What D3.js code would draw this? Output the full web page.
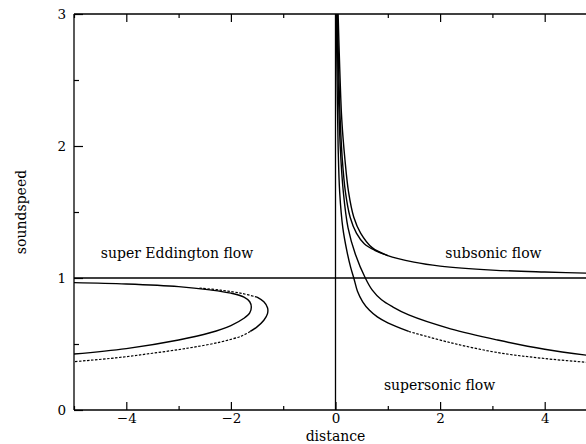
<!DOCTYPE html>
<html>
<head>
<meta charset="utf-8">
<script src="https://cdn.jsdelivr.net/npm/d3@7"></script>
<style>
  body { margin: 0; background: #fff; }
  svg { display: block; }
  text { font-family: "DejaVu Serif", serif; fill: #000; }
</style>
</head>
<body>
<div id="chart"></div>
<script>
// axis ticks
const xTicksMajor = [-4, -2, 0, 2, 4];
const xTicksMinor = [-5, -3, -1, 1, 3, 5];
const yTicksMajor = [0, 1, 2, 3];
const yTicksMinor = [0.5, 1.5, 2.5];

// region labels [x, y, text]
const regionLabels = [
  [-3.03, 1.19, "super Eddington flow"],
  [3.02, 1.19, "subsonic flow"],
  [1.99, 0.19, "supersonic flow"]
];

// left loop, inner solid curve
const loopInner = [[-5, 0.965], [-4, 0.955], [-3, 0.935], [-2.4, 0.91], [-2, 0.885], [-1.75, 0.855],
  [-1.64, 0.82], [-1.61, 0.78], [-1.64, 0.735], [-1.75, 0.695], [-2, 0.64], [-2.4, 0.585],
  [-3, 0.53], [-4, 0.465], [-5, 0.424]];
// left loop, outer curve: dotted upper part, solid nose, dotted lower part
const loopOuterUpper = [[-2.6, 0.924], [-2.2, 0.908], [-1.8, 0.884], [-1.5, 0.855]];
const loopOuterNose = [[-1.5, 0.855], [-1.37, 0.82], [-1.3, 0.775], [-1.3, 0.73], [-1.37, 0.68],
  [-1.5, 0.63], [-1.63, 0.595]];
const loopOuterLower = [[-1.63, 0.595], [-1.8, 0.56], [-2.2, 0.515], [-2.8, 0.47], [-3.5, 0.43],
  [-4.2, 0.395], [-5, 0.366]];

// subsonic branches
const subsonicOuter = [[0.05, 3], [0.08, 2.6], [0.12, 2.2], [0.18, 1.9], [0.25, 1.65], [0.35, 1.46],
  [0.48, 1.34], [0.7, 1.23], [1, 1.17], [1.5, 1.12], [2, 1.09], [3, 1.06], [4, 1.045], [5, 1.035]];
const subsonicInner = [[0.035, 3], [0.06, 2.6], [0.09, 2.2], [0.13, 1.9], [0.19, 1.65], [0.28, 1.46],
  [0.4, 1.34], [0.55, 1.26], [0.75, 1.21], [1, 1.17]];

// supersonic branches
const superLeft = [[0.015, 3], [0.03, 2.5], [0.05, 2.0], [0.08, 1.65], [0.14, 1.38], [0.22, 1.2],
  [0.29, 1.08], [0.35, 1.0], [0.42, 0.9], [0.52, 0.82], [0.65, 0.755], [0.8, 0.705], [1.0, 0.66],
  [1.4, 0.595]];
const superLeftDotted = [[1.4, 0.595], [2.2, 0.51], [3.1, 0.435], [4, 0.39], [5, 0.355]];
const superRight = [[0.03, 3], [0.05, 2.5], [0.09, 2.0], [0.15, 1.65], [0.24, 1.38], [0.38, 1.18],
  [0.57, 1.0], [0.7, 0.91], [0.88, 0.835], [1.1, 0.78], [1.4, 0.72], [2.2, 0.615], [3.1, 0.53],
  [4, 0.46], [5, 0.405]];

const width = 586, height = 444;
const x = d3.scaleLinear().domain([-5, 5]).range([74, 597]);
const y = d3.scaleLinear().domain([0, 3]).range([410, 14]);

const svg = d3.select("#chart").append("svg")
  .attr("width", width).attr("height", height);

const line = d3.line()
  .x(d => x(d[0])).y(d => y(d[1]))
  .curve(d3.curveCatmullRom.alpha(0.5));

const plot = svg.append("g");
plot.append("clipPath").attr("id", "clip")
  .append("rect").attr("x", x(-5)).attr("y", y(3)).attr("width", x(5) - x(-5)).attr("height", y(0) - y(3));
const curves = plot.append("g").attr("clip-path", "url(#clip)");

// reference lines c = 1 and distance = 0
curves.append("line")
  .attr("x1", x(-5)).attr("x2", x(5)).attr("y1", y(1)).attr("y2", y(1))
  .attr("stroke", "#000").attr("stroke-width", 1.3);
curves.append("line")
  .attr("x1", x(0)).attr("x2", x(0)).attr("y1", y(0)).attr("y2", y(3))
  .attr("stroke", "#000").attr("stroke-width", 1.3);

const solidSets = [loopInner, loopOuterNose, subsonicOuter, subsonicInner, superLeft, superRight];
const dottedSets = [loopOuterUpper, loopOuterLower, superLeftDotted];

curves.selectAll("path.solid").data(solidSets).enter().append("path")
  .attr("class", "solid").attr("d", line)
  .attr("fill", "none").attr("stroke", "#000").attr("stroke-width", 1.4);
curves.selectAll("path.dotted").data(dottedSets).enter().append("path")
  .attr("class", "dotted").attr("d", line)
  .attr("fill", "none").attr("stroke", "#000").attr("stroke-width", 1.2)
  .attr("stroke-dasharray", "2.5,1.5");

// frame
const frame = svg.append("g").attr("stroke", "#000").attr("stroke-width", 1.3);
frame.append("line").attr("x1", x(-5)).attr("x2", x(5)).attr("y1", y(0)).attr("y2", y(0));
frame.append("line").attr("x1", x(-5)).attr("x2", x(5)).attr("y1", y(3)).attr("y2", y(3));
frame.append("line").attr("x1", x(-5)).attr("x2", x(-5)).attr("y1", y(0)).attr("y2", y(3));
frame.append("line").attr("x1", x(5)).attr("x2", x(5)).attr("y1", y(0)).attr("y2", y(3));

// axes with inward ticks
svg.append("g").attr("transform", `translate(0,${y(0)})`)
  .call(d3.axisBottom(x).tickValues(xTicksMajor).tickSizeInner(-8).tickSizeOuter(0).tickPadding(3)
    .tickFormat(d => d < 0 ? "\u2212" + Math.abs(d) : d))
  .call(g => g.select(".domain").remove());
svg.append("g").attr("transform", `translate(0,${y(0)})`)
  .call(d3.axisBottom(x).tickValues(xTicksMinor).tickSizeInner(-4).tickSizeOuter(0).tickFormat(""))
  .call(g => g.select(".domain").remove());
svg.append("g").attr("transform", `translate(0,${y(3)})`)
  .call(d3.axisTop(x).tickValues(xTicksMajor).tickSizeInner(-8).tickSizeOuter(0).tickFormat(""))
  .call(g => g.select(".domain").remove());
svg.append("g").attr("transform", `translate(0,${y(3)})`)
  .call(d3.axisTop(x).tickValues(xTicksMinor).tickSizeInner(-4).tickSizeOuter(0).tickFormat(""))
  .call(g => g.select(".domain").remove());
svg.append("g").attr("transform", `translate(${x(-5)},0)`)
  .call(d3.axisLeft(y).tickValues(yTicksMajor).tickSizeInner(-9).tickSizeOuter(0).tickPadding(8)
    .tickFormat(d3.format("d")))
  .call(g => g.select(".domain").remove());
svg.append("g").attr("transform", `translate(${x(-5)},0)`)
  .call(d3.axisLeft(y).tickValues(yTicksMinor).tickSizeInner(-5).tickSizeOuter(0).tickFormat(""))
  .call(g => g.select(".domain").remove());

svg.selectAll(".tick line").attr("stroke", "#000").attr("stroke-width", 1.2);
svg.selectAll(".tick text").attr("font-family", "DejaVu Serif, serif").attr("font-size", 13.5).attr("fill", "#000");

// axis titles
svg.append("text").attr("x", x(0)).attr("y", 441)
  .attr("text-anchor", "middle").attr("font-size", 14).text("distance");
svg.append("text").attr("transform", `translate(21,${y(1.5)}) rotate(-90)`)
  .attr("text-anchor", "middle").attr("dy", "0.35em").attr("font-size", 14).text("soundspeed");

// region labels
svg.selectAll("text.region").data(regionLabels).enter().append("text")
  .attr("class", "region")
  .attr("x", d => x(d[0])).attr("y", d => y(d[1]))
  .attr("text-anchor", "middle").attr("dy", "0.35em").attr("font-size", 14)
  .text(d => d[2]);
</script>
</body>
</html>
